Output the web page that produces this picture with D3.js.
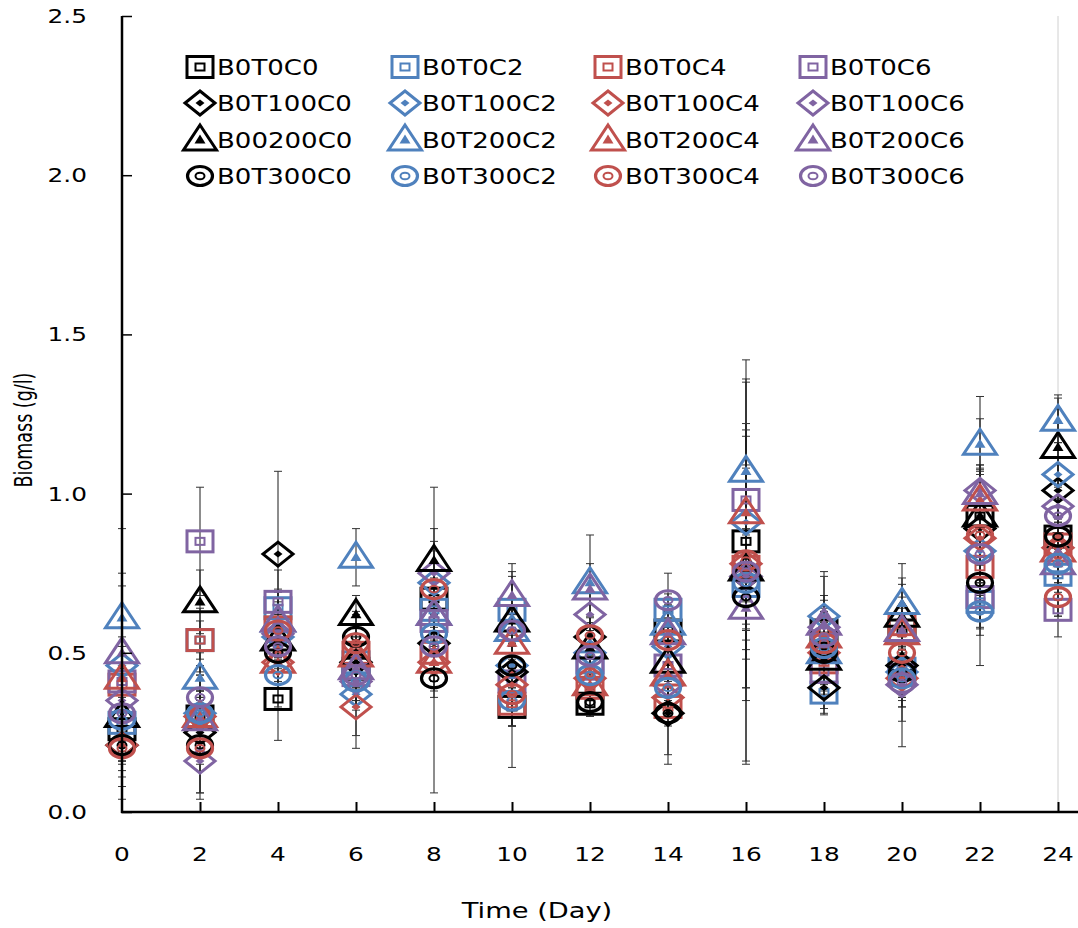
<!DOCTYPE html>
<html><head><meta charset="utf-8">
<script src="https://cdn.jsdelivr.net/npm/d3@7"></script>
<style>html,body{margin:0;padding:0;background:#fff;}svg{display:block;}</style>
</head><body>
<svg id="chart" width="1078" height="928"></svg>
<script>
const days = [0,2,4,6,8,10,12,14,16,18,20,22,24];
const xTickLabels = ["0","2","4","6","8","10","12","14","16","18","20","22","24"];
const yTickValues = [0,0.5,1.0,1.5,2.0,2.5];

const seriesNames = ["B0T0C0","B0T0C2","B0T0C4","B0T0C6","B0T100C0","B0T100C2","B0T100C4","B0T100C6","B00200C0","B0T200C2","B0T200C4","B0T200C6","B0T300C0","B0T300C2","B0T300C4","B0T300C6"];
const seriesColors = ["#000000","#4F81BD","#C0504D","#8064A2"];
const seriesShapes = ["square","diamond","triangle","circle"];

const b0t0c0   = [0.26,0.30,0.355,0.45,0.67,0.33,0.34,0.57,0.85,0.57,0.57,0.93,0.865];
const b0t0c2   = [0.28,0.54,0.64,0.47,0.635,0.635,0.47,0.635,0.71,0.375,0.45,0.66,0.745];
const b0t0c4   = [0.40,0.54,0.58,0.50,0.50,0.34,0.39,0.33,0.77,0.47,0.59,0.77,0.84];
const b0t0c6   = [0.41,0.85,0.66,0.43,0.60,0.41,0.45,0.46,0.98,0.44,0.43,0.675,0.635];
const b0t100c0 = [0.21,0.25,0.81,0.47,0.53,0.44,0.55,0.31,0.74,0.39,0.46,0.89,1.01];
const b0t100c2 = [0.46,0.31,0.55,0.37,0.72,0.46,0.50,0.52,0.91,0.615,0.44,0.82,1.06];
const b0t100c4 = [0.21,0.30,0.47,0.33,0.47,0.40,0.42,0.36,0.78,0.50,0.42,0.86,0.83];
const b0t100c6 = [0.35,0.16,0.56,0.41,0.75,0.57,0.62,0.40,0.74,0.58,0.40,1.01,0.96];
const b00200c0 = [0.30,0.66,0.54,0.62,0.79,0.60,0.515,0.47,0.76,0.48,0.615,0.93,1.145];
const b0t200c2 = [0.61,0.42,0.60,0.80,0.62,0.57,0.72,0.59,1.07,0.50,0.655,1.155,1.23];
const b0t200c4 = [0.42,0.30,0.47,0.49,0.47,0.53,0.40,0.43,0.94,0.55,0.56,0.98,0.82];
const b0t200c6 = [0.50,0.29,0.60,0.45,0.62,0.68,0.70,0.56,0.64,0.59,0.57,1.00,0.78];
const b0t300c0 = [0.21,0.21,0.50,0.55,0.42,0.46,0.345,0.31,0.675,0.50,0.44,0.72,0.865];
const b0t300c2 = [0.29,0.31,0.43,0.41,0.56,0.35,0.43,0.39,0.72,0.515,0.42,0.63,0.78];
const b0t300c4 = [0.20,0.20,0.57,0.53,0.70,0.37,0.555,0.54,0.79,0.53,0.50,0.87,0.675];
const b0t300c6 = [0.31,0.36,0.52,0.43,0.52,0.57,0.49,0.665,0.755,0.55,0.405,0.81,0.93];

const b0t0c0Err   = [0.10,0.08,0.13,0.10,0.22,0.06,0.04,0.08,0.50,0.06,0.21,0.375,0.25];
const b0t0c2Err   = [0.12,0.06,0.05,0.08,0.10,0.08,0.05,0.05,0.20,0.05,0.06,0.06,0.08];
const b0t0c4Err   = [0.15,0.10,0.08,0.06,0.07,0.07,0.06,0.06,0.18,0.06,0.05,0.08,0.07];
const b0t0c6Err   = [0.30,0.17,0.10,0.08,0.08,0.06,0.05,0.06,0.20,0.07,0.08,0.10,0.085];
const b0t100c0Err = [0.17,0.21,0.26,0.07,0.12,0.09,0.06,0.16,0.35,0.08,0.10,0.20,0.30];
const b0t100c2Err = [0.12,0.12,0.07,0.05,0.10,0.07,0.07,0.07,0.15,0.05,0.07,0.10,0.10];
const b0t100c4Err = [0.08,0.08,0.08,0.13,0.11,0.05,0.05,0.05,0.30,0.05,0.06,0.06,0.08];
const b0t100c6Err = [0.10,0.10,0.06,0.06,0.10,0.05,0.07,0.04,0.20,0.06,0.07,0.08,0.06];
const b00200c0Err = [0.15,0.10,0.08,0.06,0.23,0.155,0.08,0.12,0.60,0.10,0.10,0.14,0.12];
const b0t200c2Err = [0.28,0.08,0.10,0.09,0.08,0.08,0.15,0.06,0.35,0.10,0.08,0.08,0.07];
const b0t200c4Err = [0.10,0.06,0.06,0.05,0.09,0.05,0.05,0.08,0.28,0.08,0.06,0.10,0.10];
const b0t200c6Err = [0.25,0.09,0.05,0.06,0.06,0.06,0.08,0.07,0.25,0.09,0.05,0.06,0.09];
const b0t300c0Err = [0.05,0.15,0.05,0.08,0.36,0.32,0.04,0.13,0.525,0.11,0.235,0.26,0.12];
const b0t300c2Err = [0.10,0.04,0.10,0.08,0.06,0.08,0.06,0.08,0.15,0.08,0.09,0.05,0.07];
const b0t300c4Err = [0.12,0.05,0.08,0.05,0.05,0.10,0.06,0.07,0.22,0.225,0.05,0.07,0.06];
const b0t300c6Err = [0.09,0.07,0.06,0.19,0.08,0.07,0.07,0.085,0.18,0.19,0.12,0.09,0.08];

const allValues = [b0t0c0,b0t0c2,b0t0c4,b0t0c6,b0t100c0,b0t100c2,b0t100c4,b0t100c6,b00200c0,b0t200c2,b0t200c4,b0t200c6,b0t300c0,b0t300c2,b0t300c4,b0t300c6];
const allErrors = [b0t0c0Err,b0t0c2Err,b0t0c4Err,b0t0c6Err,b0t100c0Err,b0t100c2Err,b0t100c4Err,b0t100c6Err,b00200c0Err,b0t200c2Err,b0t200c4Err,b0t200c6Err,b0t300c0Err,b0t300c2Err,b0t300c4Err,b0t300c6Err];

const series = seriesNames.map((name,i)=>({
  name, color: seriesColors[i%4], shape: seriesShapes[Math.floor(i/4)],
  points: days.map((d,j)=>({day:d, v:allValues[i][j], e:allErrors[i][j]}))
}));

const svg = d3.select("#chart");
const SX = 1.24; // horizontal stretch of original figure
const plotLeft = 122, plotRight = 1078, plotTop = 16, plotBottom = 812;
const x = d3.scaleLinear().domain([0,24]).range([plotLeft, 1058]);
const y = d3.scaleLinear().domain([0,2.5]).range([plotBottom, plotTop]);

function stretchedText(g, tx, ty, str, size, anchor, family, rot) {
  return g.append("text")
    .attr("transform", `translate(${tx},${ty}) scale(${SX},1)` + (rot ? ` rotate(${rot})` : ""))
    .attr("text-anchor", anchor)
    .attr("font-family", family)
    .attr("font-size", size)
    .attr("fill", "#000")
    .text(str);
}

function drawMarker(g, shape, color) {
  const sw = 3;
  if (shape === "square") {
    g.append("rect").attr("x",-13).attr("y",-10.5).attr("width",26).attr("height",21)
      .attr("fill","none").attr("stroke",color).attr("stroke-width",sw);
    g.append("rect").attr("x",-4.5).attr("y",-3.5).attr("width",9).attr("height",7)
      .attr("fill","none").attr("stroke",color).attr("stroke-width",2);
  } else if (shape === "diamond") {
    const w=30,h=24;
    g.append("path").attr("d",`M0,${-h/2}L${w/2},0L0,${h/2}L${-w/2},0Z`)
      .attr("fill","none").attr("stroke",color).attr("stroke-width",sw).attr("stroke-linejoin","miter");
    const iw=9,ih=7;
    g.append("path").attr("d",`M0,${-ih/2}L${iw/2},0L0,${ih/2}L${-iw/2},0Z`).attr("fill",color);
  } else if (shape === "triangle") {
    const w=33,h=25;
    g.append("path").attr("d",`M0,${-h*0.6}L${w/2},${h*0.4}L${-w/2},${h*0.4}Z`)
      .attr("fill","none").attr("stroke",color).attr("stroke-width",sw).attr("stroke-linejoin","miter");
    const iw=11,ih=9;
    g.append("path").attr("d",`M0,${-ih*0.6}L${iw/2},${ih*0.4}L${-iw/2},${ih*0.4}Z`).attr("fill",color);
  } else {
    g.append("ellipse").attr("rx",12.5).attr("ry",9.5)
      .attr("fill","none").attr("stroke",color).attr("stroke-width",3.2);
    g.append("ellipse").attr("rx",4.5).attr("ry",3.3)
      .attr("fill","none").attr("stroke",color).attr("stroke-width",2);
  }
}

svg.append("line").attr("x1",x(24)).attr("x2",x(24)).attr("y1",plotTop).attr("y2",plotBottom)
  .attr("stroke","#d0d0d0").attr("stroke-width",1);

const eb = svg.append("g");
series.forEach(s=>{
  s.points.forEach(p=>{
    const cx = x(p.day), y1 = y(p.v+p.e), y2 = y(Math.max(0,p.v-p.e));
    eb.append("line").attr("x1",cx).attr("x2",cx).attr("y1",y1).attr("y2",y2).attr("stroke","#1a1a1a").attr("stroke-width",1);
    [y1,y2].forEach(yy=> eb.append("line").attr("x1",cx-4).attr("x2",cx+4).attr("y1",yy).attr("y2",yy).attr("stroke","#333").attr("stroke-width",1));
  });
});

const mk = svg.append("g");
series.forEach(s=>{
  s.points.forEach(p=>{
    const g = mk.append("g").attr("transform",`translate(${x(p.day)},${y(p.v)})`);
    drawMarker(g, s.shape, s.color);
  });
});

const yAxis = d3.axisRight(y).tickValues(yTickValues).tickSize(10).tickFormat("");
const yg = svg.append("g").attr("transform",`translate(${plotLeft},0)`).call(yAxis);
yg.select(".domain").remove();
yg.selectAll(".tick line").attr("stroke","#000").attr("stroke-width",1.5);
svg.append("line").attr("x1",plotLeft).attr("x2",plotLeft).attr("y1",plotTop).attr("y2",plotBottom+1).attr("stroke","#000").attr("stroke-width",2.5);

const xAxis = d3.axisTop(x).tickValues(days.slice(1)).tickSize(10).tickFormat("");
const xg = svg.append("g").attr("transform",`translate(0,${plotBottom})`).call(xAxis);
xg.select(".domain").remove();
xg.selectAll(".tick line").attr("stroke","#000").attr("stroke-width",2);
svg.append("line").attr("x1",plotLeft-1).attr("x2",plotRight).attr("y1",plotBottom).attr("y2",plotBottom).attr("stroke","#000").attr("stroke-width",2.5);

const labels = svg.append("g");
const tickFont = "'DejaVu Sans', Verdana, sans-serif";
yTickValues.forEach(v=> stretchedText(labels, 87, y(v)+7, d3.format(".1f")(v), 20, "end", tickFont));
days.forEach((d,i)=> stretchedText(labels, x(d), 861, xTickLabels[i], 20, "middle", tickFont));
stretchedText(labels, 537, 918, "Time (Day)", 22, "middle", tickFont);
labels.append("text").attr("transform","translate(32,430) scale(1.3,1) rotate(-90)")
  .attr("text-anchor","middle").attr("font-family","'Liberation Sans Narrow','DejaVu Sans Condensed',sans-serif")
  .attr("font-size",19.5).text("Biomass (g/l)");

const legColX = [200,405,608,813];
const legRowY = [67,103,140,176];
const lg = svg.append("g");
series.forEach((s,i)=>{
  const col = i%4, row = Math.floor(i/4);
  const g = lg.append("g").attr("transform",`translate(${legColX[col]},${legRowY[row]})`);
  drawMarker(g, s.shape, s.color);
  stretchedText(lg, legColX[col]+17, legRowY[row]+8, s.name, 21, "start", tickFont);
});
</script>
</body></html>
